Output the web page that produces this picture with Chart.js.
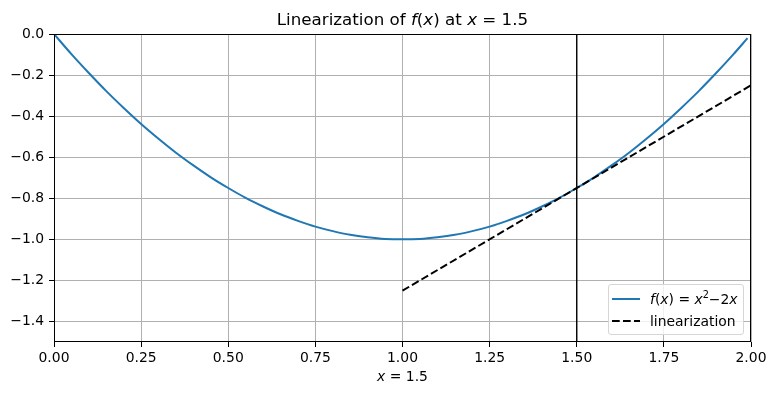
<!doctype html>
<html lang="en">
<head>
<meta charset="utf-8" />
<script src="https://cdn.jsdelivr.net/npm/chart.js@4.4.1/dist/chart.umd.min.js"></script>
<style>
  html, body { margin: 0; padding: 0; background: #ffffff; }
  body { width: 776px; height: 395px; position: relative; overflow: hidden;
         font-family: "DejaVu Sans", sans-serif; color: #000; }
  #chart { position: absolute; left: 0; top: 0; }
  .title { position: absolute; left: 54px; width: 697px; top: 9px; text-align: center;
           font-size: 16.7px; white-space: nowrap; }
  .xlabel { position: absolute; left: 54px; width: 697px; top: 368px; text-align: center;
            font-size: 13.9px; white-space: nowrap; }
  .legend { position: absolute; left: 608px; top: 284px; width: 134px; height: 49px;
            border: 1px solid #d6d6d6; border-radius: 3px; background: rgba(255,255,255,0.8);
            font-size: 13.9px; }
  .legend .row { position: absolute; left: 0; height: 18px; display: flex; align-items: center; }
  .legend svg { margin-left: 3px; margin-right: 10px; }
  sup { font-size: 9.7px; vertical-align: 6px; line-height: 0; }
</style>
</head>
<body>
<canvas id="chart" width="776" height="395"></canvas>
<div class="title">Linearization of <i>f</i>(<i>x</i>) at <i>x</i> = 1.5</div>
<div class="xlabel"><i>x</i> = 1.5</div>
<div class="legend">
  <div class="row" style="top:5px">
    <svg width="28" height="4"><line x1="0" y1="2" x2="28" y2="2" stroke="#1f77b4" stroke-width="2" /></svg>
    <span><i>f</i>(<i>x</i>) = <i>x</i><sup>2</sup>−2<i>x</i></span>
  </div>
  <div class="row" style="top:27px">
    <svg width="28" height="4"><line x1="0" y1="2" x2="28" y2="2" stroke="#000" stroke-width="2" stroke-dasharray="7.7,3.3" /></svg>
    <span>linearization</span>
  </div>
</div>
<script>
// curve samples
const curveX = [0, 0.05, 0.1, 0.15, 0.2, 0.25, 0.3, 0.35, 0.4, 0.45, 0.5, 0.55, 0.6, 0.65, 0.7, 0.75, 0.8, 0.85, 0.9, 0.95,
  1.0, 1.05, 1.1, 1.15, 1.2, 1.25, 1.3, 1.35, 1.4, 1.45, 1.5, 1.55, 1.6, 1.65, 1.7, 1.75, 1.8, 1.85, 1.9, 1.95, 1.99];
const curveY = [0, -0.098, -0.19, -0.278, -0.36, -0.438, -0.51, -0.578, -0.64, -0.698, -0.75, -0.798, -0.84, -0.878, -0.91, -0.938, -0.96, -0.978, -0.99, -0.998,
  -1.0, -0.998, -0.99, -0.978, -0.96, -0.938, -0.91, -0.878, -0.84, -0.798, -0.75, -0.698, -0.64, -0.578, -0.51, -0.438, -0.36, -0.278, -0.19, -0.098, -0.02];

const linX = [1.0, 2.0];
const linY = [-1.25, -0.25];

const vlineX = 1.5;
const yRange = [-1.5, 0];

const xTicks = [0, 0.25, 0.5, 0.75, 1.0, 1.25, 1.5, 1.75, 2.0];
const yTicks = [0, -0.2, -0.4, -0.6, -0.8, -1.0, -1.2, -1.4];

const TICK_FONT = { family: 'DejaVu Sans', size: 13.9 };

// matplotlib-style box around the plot area
const frame = {
  id: 'frame',
  afterDatasetsDraw(chart) {
    const a = chart.chartArea;
    const ctx = chart.ctx;
    ctx.save();
    ctx.strokeStyle = '#000';
    ctx.lineWidth = 1;
    ctx.strokeRect(Math.round(a.left) + 0.5, Math.round(a.top) + 0.5,
      Math.round(a.right - a.left) - 1, Math.round(a.bottom - a.top) - 1);
    ctx.restore();
  }
};

new Chart(document.getElementById('chart'), {
  type: 'scatter',
  data: {
    datasets: [
      {
        label: 'vline',
        data: yRange.map(y => ({ x: vlineX, y })),
        showLine: true, borderColor: '#000', borderWidth: 1.4, pointRadius: 0, order: 1,
      },
      {
        label: 'linearization',
        data: linX.map((x, i) => ({ x, y: linY[i] })),
        showLine: true, borderColor: '#000', borderWidth: 2, borderDash: [7.7, 3.3],
        pointRadius: 0, order: 2,
      },
      {
        label: 'f(x) = x^2-2x',
        data: curveX.map((x, i) => ({ x, y: curveY[i] })),
        showLine: true, borderColor: '#1f77b4', borderWidth: 2, pointRadius: 0,
        cubicInterpolationMode: 'monotone', order: 3,
      },
    ],
  },
  options: {
    responsive: false,
    animation: false,
    layout: { padding: { left: 0, right: 25, top: 34, bottom: 0 } },
    plugins: { legend: { display: false }, tooltip: { enabled: false }, title: { display: false } },
    scales: {
      x: {
        type: 'linear', min: 0, max: 2,
        afterBuildTicks: s => { s.ticks = xTicks.map(v => ({ value: v })); },
        afterFit: s => { s.height = 53; },
        ticks: { color: '#000', font: TICK_FONT, padding: 3, maxRotation: 0,
                 callback: v => Number(v).toFixed(2) },
        grid: { color: '#b0b0b0', lineWidth: 1, tickColor: '#000', tickLength: 5 },
        border: { display: false },
      },
      y: {
        type: 'linear', min: yRange[0], max: yRange[1],
        afterBuildTicks: s => { s.ticks = yTicks.map(v => ({ value: v })); },
        afterFit: s => { s.width = 54; },
        ticks: { color: '#000', font: TICK_FONT, padding: 5,
                 callback: v => Number(v).toFixed(1).replace('-', '\u2212') },
        grid: { color: '#b0b0b0', lineWidth: 1, tickColor: '#000', tickLength: 5 },
        border: { display: false },
      },
    },
  },
  plugins: [frame],
});
</script>
</body>
</html>
